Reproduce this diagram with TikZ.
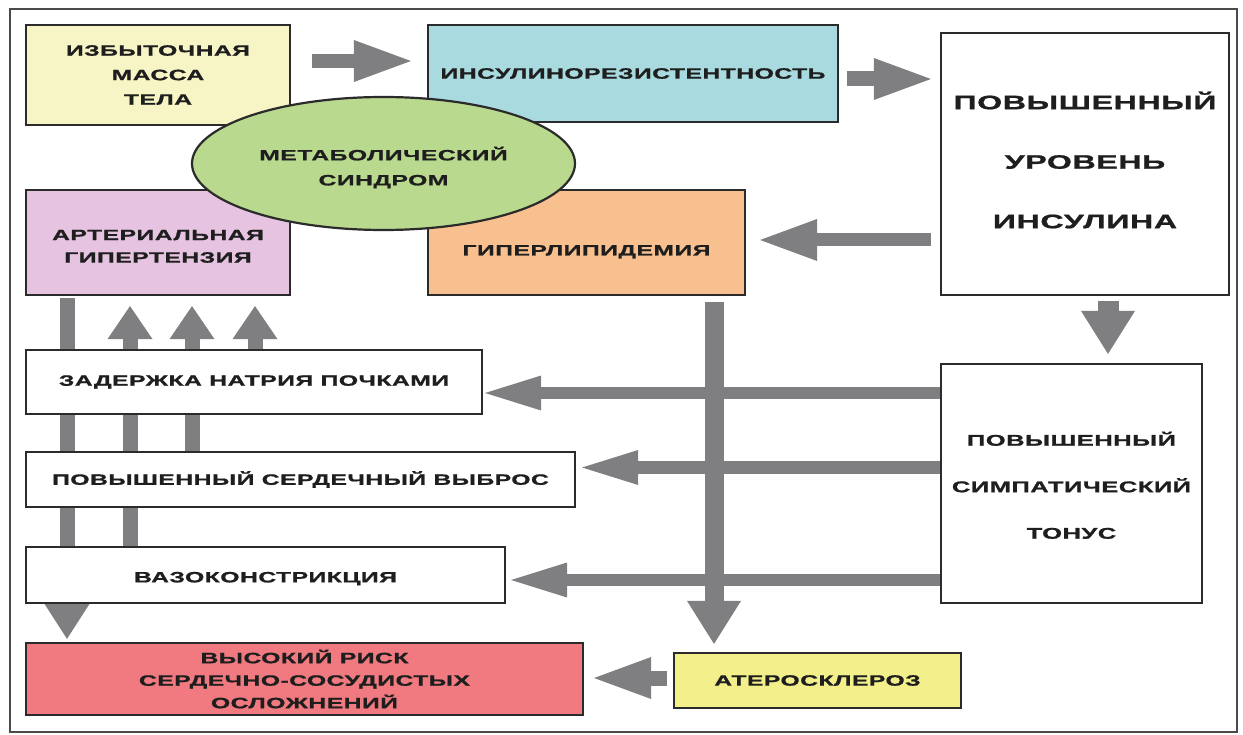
\documentclass[tikz,border=0pt]{standalone}
\usepackage{fontspec}
\newfontfamily\lbl[FakeStretch=1.65,LetterSpace=3,FakeBold=1]{Liberation Sans}
\usetikzlibrary{arrows.meta,shapes.geometric}
\pgfdeclarelayer{bg}
\pgfsetlayers{bg,main}
\definecolor{cMass}{HTML}{F7F5C6}
\definecolor{cRes}{HTML}{A8DADF}
\definecolor{cEll}{HTML}{B8D98E}
\definecolor{cAH}{HTML}{E6C3E0}
\definecolor{cHyp}{HTML}{F9C08F}
\definecolor{cRed}{HTML}{F07A80}
\definecolor{cAth}{HTML}{F3F08C}
\definecolor{cArrow}{HTML}{7F7F82}
\definecolor{cBorder}{HTML}{2B2B2B}
\definecolor{cText}{HTML}{1E1E1E}
\definecolor{cFrame}{HTML}{4A4A4A}
% text block lowered by #1, occupying no height of its own
\newcommand{\lines}[2]{\raisebox{-#1}[0pt][0pt]{\begin{tabular}{@{}c@{}}#2\end{tabular}}}
\newcommand{\oneline}[2]{\raisebox{-#1}[0pt][0pt]{#2}}
\tikzset{
  box/.style={draw=cBorder, line width=2.2pt, inner sep=0pt, align=center, text=cText,
    font=\lbl\bfseries\fontsize{15}{22.5}\selectfont},
  ell/.style={ellipse, draw=cBorder, line width=2.2pt, fill=cEll, inner sep=0pt, align=center, text=cText,
    font=\lbl\bfseries\fontsize{15}{25}\selectfont},
  frame/.style={draw=cFrame, line width=2pt},
  hbig/.style={draw=cArrow, line width=14pt, -{Triangle[width=42pt,length=57pt,line width=0pt]}},
  hsmall/.style={draw=cArrow, line width=12.5pt, -{Triangle[width=35pt,length=56pt,line width=0pt]}},
  vbig/.style={draw=cArrow, line width=19pt, -{Triangle[width=54pt,length=43pt,line width=0pt]}},
  vsmall/.style={draw=cArrow, line width=15pt, -{Triangle[width=45pt,length=33pt,line width=0pt]}},
  vbar/.style={draw=cArrow, line width=15pt, -{Triangle[width=54pt,length=42pt,line width=0pt]}},
}
\begin{document}
\begin{tikzpicture}[x=1pt,y=-1pt]
\useasboundingbox (0,0) rectangle (1243,735);
% columns and rows of the connectors
\coordinate (c67) at (67,0);
\coordinate (c130) at (130,0);
\coordinate (c192) at (192,0);
\coordinate (c255) at (255,0);
\coordinate (c714) at (714,0);
\coordinate (c1108) at (1108,0);
\coordinate (r61) at (0,61);
\coordinate (r79) at (0,79);
\coordinate (r240) at (0,240);
\coordinate (r393) at (0,393);
\coordinate (r467) at (0,467.5);
\coordinate (r580) at (0,580);
\coordinate (r678) at (0,678);
% boxes
\node[box, fill=cMass, minimum width=264pt, minimum height=100pt] (mass) at (158,75)
  {ИЗБЫТОЧНАЯ\\[2pt]МАССА\\[2pt]ТЕЛА};
\node[box, fill=cRes, minimum width=410pt, minimum height=97pt] (resist) at (633,73.5)
  {ИНСУЛИНОРЕЗИСТЕНТНОСТЬ};
\node[box, fill=white, minimum width=288pt, minimum height=262pt,
  font=\lbl\bfseries\fontsize{19.5}{59.5}\selectfont] (insulin) at (1085,164)
  {\lines{-2pt}{ПОВЫШЕННЫЙ\\УРОВЕНЬ\\ИНСУЛИНА}};
\node[box, fill=cAH, minimum width=264pt, minimum height=105pt] (ah) at (158,242.5)
  {\lines{8pt}{АРТЕРИАЛЬНАЯ\\ГИПЕРТЕНЗИЯ}};
\node[box, fill=cHyp, minimum width=317pt, minimum height=105pt] (hyper) at (586.5,242.5)
  {\oneline{13pt}{ГИПЕРЛИПИДЕМИЯ}};
\node[box, fill=white, minimum width=261pt, minimum height=239pt,
  font=\lbl\bfseries\fontsize{15.5}{46.5}\selectfont] (symp) at (1071.5,483.5)
  {\lines{3pt}{ПОВЫШЕННЫЙ\\СИМПАТИЧЕСКИЙ\\ТОНУС}};
\node[box, fill=white, minimum width=456pt, minimum height=64pt] (sodium) at (254,382)
  {ЗАДЕРЖКА НАТРИЯ ПОЧКАМИ};
\node[box, fill=white, minimum width=549pt, minimum height=55pt] (cardiac) at (300.5,479.5)
  {ПОВЫШЕННЫЙ СЕРДЕЧНЫЙ ВЫБРОС};
\node[box, fill=white, minimum width=479pt, minimum height=56pt] (vaso) at (265.5,575)
  {\oneline{7.4pt}{ВАЗОКОНСТРИКЦИЯ}};
\node[box, fill=cRed, minimum width=557pt, minimum height=72pt] (red) at (304.5,679)
  {ВЫСОКИЙ РИСК\\СЕРДЕЧНО-СОСУДИСТЫХ\\ОСЛОЖНЕНИЙ};
\node[box, fill=cAth, minimum width=287pt, minimum height=55pt] (ath) at (817.5,680.5)
  {АТЕРОСКЛЕРОЗ};
\node[ell, minimum width=383pt, minimum height=133pt] (ms) at (383.5,163.5)
  {\lines{8pt}{МЕТАБОЛИЧЕСКИЙ\\СИНДРОМ}};
% frame and connectors behind the boxes
\begin{pgfonlayer}{bg}
\draw[frame] (10,9) rectangle (1237,732);
\draw[hbig, shorten <=21pt, shorten >=16pt] (mass.east |- r61) -- (resist.west |- r61);
\draw[hbig, line width=15pt, shorten <=8pt, shorten >=9pt] (resist.east |- r79) -- (insulin.west |- r79);
\draw[hbig, line width=13pt, shorten <=9pt, shorten >=14pt] (insulin.west |- r240) -- (hyper.east |- r240);
\draw[vbig, line width=21pt, shorten <=5pt, shorten >=9pt] (insulin.south -| c1108) -- (symp.north -| c1108);
\draw[hsmall, shorten >=2pt] (symp.west |- r393) -- (sodium.east |- r393);
\draw[hsmall, shorten >=6pt] (symp.west |- r467) -- (cardiac.east |- r467);
\draw[hsmall, shorten >=5pt] (symp.west |- r580) -- (vaso.east |- r580);
\draw[vbig, shorten <=6pt, shorten >=8pt] (hyper.south -| c714) -- (ath.north -| c714);
\draw[hbig, line width=15pt, shorten <=6pt, shorten >=10pt] (ath.west |- r678) -- (red.east |- r678);
\draw[vbar, shorten <=2pt, shorten >=3pt] (ah.south -| c67) -- (red.north -| c67);
\draw[vsmall, shorten >=10pt] (vaso.north -| c130) -- (ah.south -| c130);
\draw[vsmall, shorten >=10pt] (cardiac.north -| c192) -- (ah.south -| c192);
\draw[vsmall, shorten >=10pt] (sodium.north -| c255) -- (ah.south -| c255);
\end{pgfonlayer}
\end{tikzpicture}
\end{document}
